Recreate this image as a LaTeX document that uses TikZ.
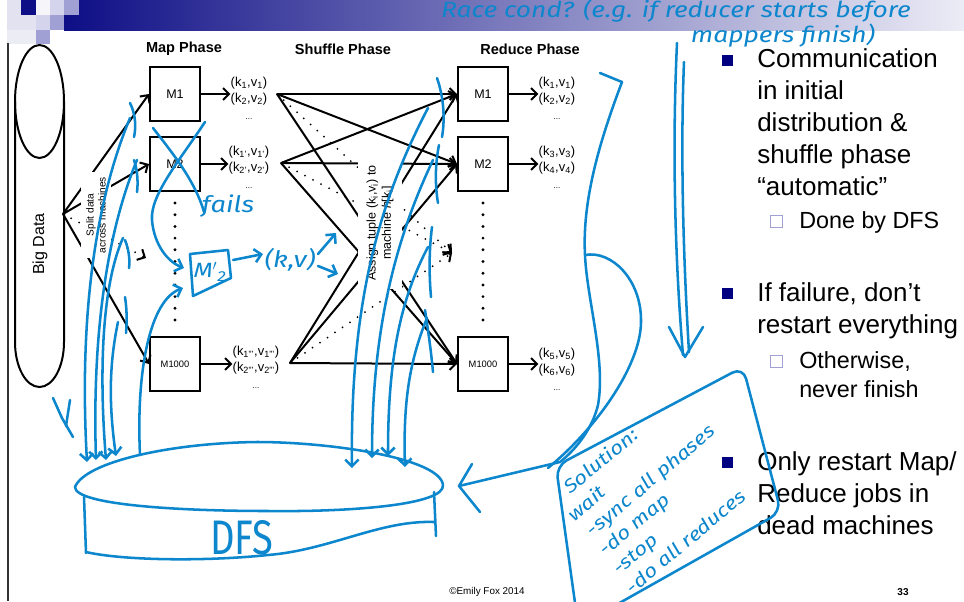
\documentclass[tikz,border=0pt]{standalone}
\usepackage{fontspec}
\setmainfont{Liberation Sans}
\newfontfamily\hand[FakeStretch=1.2]{Fira Sans}
\usetikzlibrary{arrows.meta}

\definecolor{inkblue}{RGB}{12,134,204}
\definecolor{navy}{RGB}{0,0,128}
\definecolor{lilac}{RGB}{160,160,212}
\definecolor{barleft}{RGB}{14,14,134}
\definecolor{barright}{RGB}{236,236,246}

\tikzset{
  mbox/.style={draw, line width=1.5pt, minimum width=37.5pt, minimum height=41pt, inner sep=0pt, font=\fontsize{9.4}{11}\selectfont},
  kvout/.style={align=center, inner sep=0pt, font=\fontsize{9.7}{12.4}\selectfont},
  phase/.style={font=\bfseries\fontsize{10.9}{13}\selectfont},
  arr/.style={line width=1.5pt, -{Straight Barb[length=4.5pt,width=9pt]}},
  dotline/.style={line width=2.3pt, line cap=round, dash pattern=on 0pt off 6.8pt},
  ink/.style={draw=inkblue, line width=1.9pt, line cap=round, line join=round},
  inkarr/.style={ink, -{Straight Barb[length=5pt,width=10pt]}},
  inktext/.style={text=inkblue, inner sep=0pt, font=\hand\itshape\fontsize{15.5}{18}\selectfont},
  bulletline/.style={anchor=base west, inner sep=0pt, font=\fontsize{19.5}{24}\selectfont},
  subline/.style={anchor=base west, inner sep=0pt, font=\fontsize{17.5}{21}\selectfont},
}

\begin{document}
\begin{tikzpicture}[x=0.75pt,y=-0.75pt]
  \useasboundingbox (0,0) rectangle (964,601);
  \fill[white] (0,0) rectangle (964,601);

  % title bar and corner squares
  \shade[left color=barleft, right color=barright] (64,0) rectangle (964,30);
  \fill[barleft!12] (7,0) rectangle (21,15);
  \fill[barleft] (21,0) rectangle (36,15);
  \fill[barleft!4] (36,0) rectangle (50,15);
  \fill[lilac!45] (50,0) rectangle (64,15);
  \fill[lilac] (64,0) rectangle (79,15);
  \fill[barleft!12] (7,15) rectangle (36,30);
  \fill[lilac!45] (36,15) rectangle (50,30);
  \fill[lilac] (50,15) rectangle (64,30);
  \fill[barleft!8] (7,30) rectangle (36,44);
  \fill[lilac] (36,30) rectangle (50,44);
  \draw[line width=1.2pt, black!80] (8,43) -- (8,601);

  % big data store
  \draw[line width=1.5pt] (39.5,101.5) ellipse [x radius=24.5, y radius=56.5];
  \draw[line width=1.5pt] (15,101.5) -- (15,342) .. controls (15,367) and (26,387) .. (39.5,387)
    .. controls (53,387) and (64,367) .. (64,342) -- (64,101.5);
  \node[rotate=90, font=\fontsize{12}{14}\selectfont] (bigdata) at (40,244) {Big Data};
  \coordinate (split) at (63,214);

  % mappers and reducers
  \node[phase] (mapph) at (184,49) {Map Phase};
  \node[phase] (shufph) at (343,49) {Shuffle Phase};
  \node[phase] (redph) at (530,49) {Reduce Phase};

  \node[mbox] (M1) at (175,94) {M1};
  \node[mbox] (M2) at (175,164) {M2};
  \node[mbox, font=\fontsize{7}{8}\selectfont] (Mk) at (175,364) {M1000};
  \node[mbox] (R1) at (483,94) {M1};
  \node[mbox] (R2) at (483,164) {M2};
  \node[mbox, font=\fontsize{7}{8}\selectfont] (Rk) at (483,364) {M1000};

  \foreach \i in {0,...,10} {
    \fill (175,203+11.7*\i) circle (1.2pt);
    \fill (483,203+11.7*\i) circle (1.2pt);
  }

  % map outputs
  \node[kvout] (o1) at (249,98) {(k\textsubscript{1},v\textsubscript{1})\\(k\textsubscript{2},v\textsubscript{2})\\{\fontsize{6}{7}\selectfont ...}};
  \node[kvout] (o2) at (249,167) {(k\textsubscript{1'},v\textsubscript{1'})\\(k\textsubscript{2'},v\textsubscript{2'})\\{\fontsize{6}{7}\selectfont ...}};
  \node[kvout] (o3) at (256,367) {(k\textsubscript{1'''},v\textsubscript{1'''})\\(k\textsubscript{2'''},v\textsubscript{2'''})\\{\fontsize{6}{7}\selectfont ...}};
  \draw[arr] (M1) -- (M1 -| o1.west);
  \draw[arr] (M2) -- (M2 -| o2.west);
  \draw[arr] (Mk) -- (Mk -| o3.west);

  % reduce outputs
  \node[kvout] (p1) at (557,98) {(k\textsubscript{1},v\textsubscript{1})\\(k\textsubscript{2},v\textsubscript{2})\\{\fontsize{6}{7}\selectfont ...}};
  \node[kvout] (p2) at (557,167) {(k\textsubscript{3},v\textsubscript{3})\\(k\textsubscript{4},v\textsubscript{4})\\{\fontsize{6}{7}\selectfont ...}};
  \node[kvout] (p3) at (557,369) {(k\textsubscript{5},v\textsubscript{5})\\(k\textsubscript{6},v\textsubscript{6})\\{\fontsize{6}{7}\selectfont ...}};
  \draw[arr] (R1) -- (R1 -| p1.west);
  \draw[arr] (R2) -- (R2 -| p2.west);
  \draw[arr] (Rk) -- (Rk -| p3.west);

  % splitting the input
  \coordinate (mdots) at (146,258);
  \draw[arr] (split) -- (M1.west);
  \draw[arr] (split) -- (M2.west);
  \draw[arr] (split) -- (Mk.west);
  \draw[dotline, arr] (split) -- (mdots);

  % shuffle
  \coordinate (s1) at (277,94);
  \coordinate (s2) at (281,163);
  \coordinate (s3) at (290,363);
  \coordinate (rdots) at (452,253);
  \foreach \s in {s1,s2,s3} {
    \draw[arr] (\s) -- (R1.west);
    \draw[arr] (\s) -- (R2.west);
    \draw[arr] (\s) -- (Rk.west);
    \draw[dotline, arr] (\s) -- (rdots);
  }

  \node[fill=white, rotate=90, align=center, inner xsep=3.75pt, inner ysep=4pt, font=\fontsize{7.6}{9}\selectfont] (splitlbl) at (96,215) {Split data\\across machines};
  \node[fill=white, rotate=90, align=center, inner xsep=6pt, inner ysep=6pt, font=\fontsize{9.4}{11.5}\selectfont] (assign) at (380,223) {Assign tuple (k\textsubscript{i},v\textsubscript{i}) to\\machine \textit{h}[k\textsubscript{i}]};

  % bullets
  \fill[navy] (722,55) rectangle (733,66);
  \fill[navy] (722,288) rectangle (733,299);
  \fill[navy] (722,457) rectangle (733,468);
  \draw[lilac, line width=1.2pt] (770.5,215.5) rectangle (782.5,227.5);
  \draw[lilac, line width=1.2pt] (770.5,355.5) rectangle (782.5,367.5);
  \foreach \txt [count=\i from 0] in {Communication, in initial, distribution \&, shuffle phase, “automatic”}
    \node[bulletline] (c\i) at (757,67+32*\i) {\txt};
  \node[subline] (c5) at (799,228) {Done by DFS};
  \node[bulletline] (f0) at (757,301) {If failure, don’t};
  \node[bulletline] (f1) at (757,333) {restart everything};
  \node[subline] (f2) at (799,368) {Otherwise,};
  \node[subline] (f3) at (799,397) {never finish};
  \foreach \txt [count=\i from 0] in {Only restart Map/, Reduce jobs in, dead machines}
    \node[bulletline] (r\i) at (757,470+32*\i) {\txt};

  \node[font=\fontsize{7.4}{9}\selectfont] (credit) at (487,592) {\textcopyright Emily Fox 2014};
  \node[font=\bfseries\fontsize{7.5}{9}\selectfont] (pageno) at (903,592) {33};

  % pen notes
  \node[inktext, font=\hand\itshape\fontsize{16.5}{19}\selectfont] (race) at (676,11) {Race cond? (e.g. if reducer starts before};
  \node[inktext, font=\hand\itshape\fontsize{16.5}{19}\selectfont] (race2) at (783,36) {mappers finish)};

  \draw[ink] (153,128) .. controls (170,150) and (195,180) .. (204,212);
  \draw[inkarr] (205,122) .. controls (180,160) and (150,195) .. (152,220) .. controls (154,245) and (168,262) .. (184,268);
  \node[inktext, font=\hand\itshape\fontsize{17}{20}\selectfont] (fails) at (228,206) {fails};
  \draw[ink] (190,254) -- (228,250) -- (231,278) -- (193,296) -- cycle;
  \node[inktext] (mtwo) at (210,272) {M$'$\textsubscript{2}};
  \draw[inkarr] (140,455) .. controls (136,370) and (150,300) .. (183,288);
  \draw[inkarr] (233,260) -- (263,254);
  \node[inktext, font=\hand\itshape\fontsize{17}{20}\selectfont] (kvnote) at (290,260) {(k,v)};
  \draw[inkarr] (318,254) -- (336,233);
  \draw[inkarr] (318,266) -- (338,274);

  % stop marks on the arrows
  \draw[ink] (130,103) .. controls (136,115) and (136,128) .. (134,137);
  \draw[ink] (134,160) .. controls (138,172) and (138,184) .. (137,192);
  \draw[ink] (125,240) .. controls (129,250) and (130,260) .. (129,268);
  \draw[ink] (125,297) .. controls (127,310) and (127,322) .. (126,333);
  \draw[ink] (437,78) .. controls (444,98) and (445,120) .. (442,137);
  \draw[ink] (439,145) .. controls (435,165) and (435,185) .. (438,203);
  \draw[ink] (432,227) .. controls (429,250) and (429,275) .. (431,297);
  \draw[ink] (425,310) .. controls (428,330) and (431,350) .. (433,372);

  % writes down to the DFS
  \draw[inkarr] (130,118) .. controls (100,190) and (78,300) .. (87,462);
  \draw[inkarr] (137,160) .. controls (108,230) and (92,330) .. (96,460);
  \draw[inkarr] (123,238) .. controls (104,280) and (98,360) .. (106,460);
  \draw[inkarr] (118,322) .. controls (110,360) and (108,400) .. (116,456);
  \draw[ink] (53,398) -- (62,418) -- (73,437);
  \draw[ink] (70,400) -- (66,426);
  \draw[inkarr] (428,108) .. controls (380,200) and (350,300) .. (352,468);
  \draw[inkarr] (433,160) .. controls (395,240) and (372,330) .. (372,458);
  \draw[inkarr] (428,247) .. controls (400,300) and (388,360) .. (388,456);
  \draw[inkarr] (427,318) .. controls (410,360) and (403,400) .. (405,467);

  % DFS drum
  \draw[ink] (75,487) .. controls (85,462) and (170,443) .. (257,442) .. controls (330,442) and (440,458) .. (443,485)
    .. controls (445,505) and (350,512) .. (268,511) .. controls (180,511) and (75,505) .. (75,487);
  \draw[ink] (84,497) -- (86,553);
  \draw[ink] (434,492) -- (436,536);
  \draw[ink] (86,552) .. controls (120,560) and (200,562) .. (268,555) .. controls (330,550) and (380,520) .. (434,522);
  \node[text=inkblue, inner sep=0pt, font=\hand\fontsize{28}{30}\selectfont] (dfs) at (242,538) {\scalebox{0.85}[1.3]{DFS}};

  % right-hand brackets and arrows
  \draw[ink] (600,73) -- (622,82);
  \draw[ink] (622,82) .. controls (600,140) and (582,200) .. (585,255) .. controls (587,300) and (606,360) .. (598,405)
    .. controls (592,430) and (575,450) .. (560,462) -- (459,486);
  \draw[ink] (472,464) -- (459,486) -- (480,512);
  \draw[ink] (585,255) .. controls (612,250) and (641,280) .. (641,320) .. controls (642,362) and (600,425) .. (548,468);
  \draw[ink] (677,43) .. controls (672,150) and (675,260) .. (683,355);
  \draw[ink] (684,62) .. controls (680,160) and (684,270) .. (689,352);
  \draw[ink] (669,327) -- (685,357) -- (703,327);

  % solution box
  \draw[ink, rounded corners=9pt] (576,610) -- (556,466) -- (743,367) -- (781,512) -- (607,610);
  \begin{scope}[shift={(568,492)}, rotate=40]
    \node[inktext, font=\hand\itshape\fontsize{14}{17.5}\selectfont, align=left, anchor=north west, transform shape] (solution) at (-17,-11)
      {\hspace{12.5pt}Solution:\\\hspace{1.5pt}wait\\\hspace{5pt}-sync all phases\\\hspace{3pt}-do map\\\hspace{1.5pt}-stop\\-do all reduces};
  \end{scope}
\end{tikzpicture}
\end{document}
